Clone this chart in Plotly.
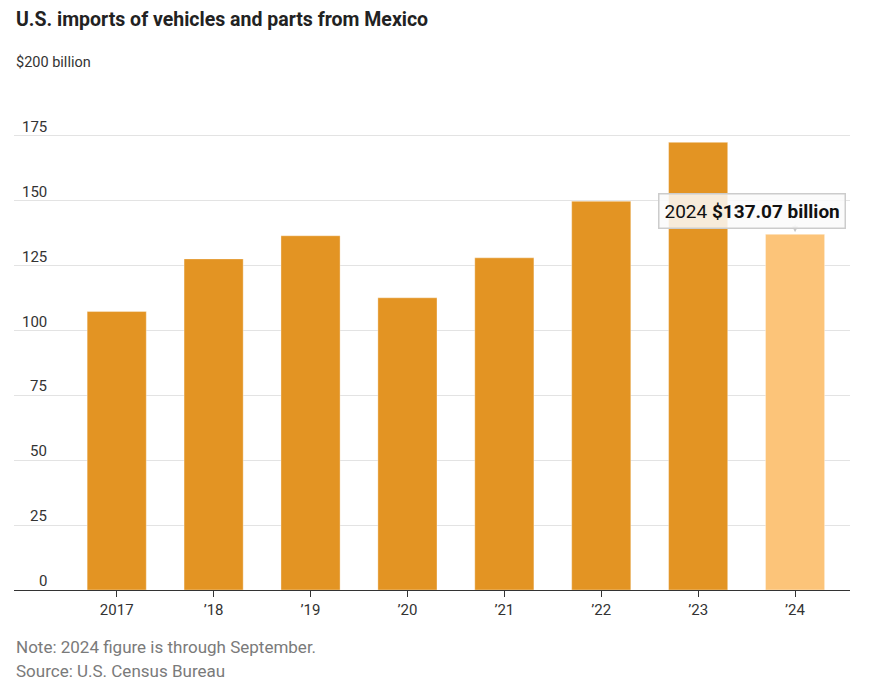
import plotly.graph_objects as go

years = ["2017", "\u201918", "\u201919", "\u201920", "\u201921", "\u201922", "\u201923", "\u201924"]
imports_bn = [107.3, 127.6, 136.5, 112.6, 128.0, 149.8, 172.5, 137.07]
ytick_vals = [0, 25, 50, 75, 100, 125, 150, 175, 200]
ytick_text = ["0", "25", "50", "75", "100", "125", "150", "175", "$200 billion"]

bar_colors = ["#E39423"] * 7 + ["#FCC479"]

fig = go.Figure()
fig.add_trace(go.Bar(
    x=years, y=imports_bn,
    marker=dict(color=bar_colors, line=dict(color="rgba(255,255,255,0.35)", width=1)),
    hoverinfo="skip",
))

FONT = "Roboto"
# page has an 8px body margin; figure sized to fit the 870x686 window
OFF = 8
W, H = 870 - OFF, 686 - OFF
L, R = 14 - OFF, 870 - 850
T = 71 - OFF
B = H - (590 - OFF)
plot_h = 590 - 71

def py(pix):  # page pixel -> paper y
    return (590 - pix) / plot_h

annotations = []
for v, t in zip(ytick_vals, ytick_text):
    if t.startswith("$"):
        annotations.append(dict(x=0, xref="paper", y=v, yref="y", text=t, showarrow=False,
                                xanchor="left", yanchor="bottom", yshift=-2,
                                font=dict(family=FONT, size=14.5, color="#333")))
    else:
        annotations.append(dict(x=(49 - 14) / (850 - 14), xref="paper", y=v, yref="y", text=t,
                                showarrow=False, xanchor="right", yanchor="bottom", yshift=-2,
                                font=dict(family=FONT, size=15, color="#333")))

annotations.append(dict(x=0, xref="paper", y=py(19.5), yref="paper",
                        text="<b>U.S. imports of vehicles and parts from Mexico</b>",
                        showarrow=False, xanchor="left", yanchor="middle",
                        font=dict(family=FONT, size=19.5, color="#222")))
annotations.append(dict(x=0, xref="paper", y=py(647), yref="paper",
                        text="Note: 2024 figure is through September.",
                        showarrow=False, xanchor="left", yanchor="middle",
                        font=dict(family=FONT, size=17, color="#7a7a7a")))
annotations.append(dict(x=0, xref="paper", y=py(671), yref="paper",
                        text="Source: U.S. Census Bureau",
                        showarrow=False, xanchor="left", yanchor="middle",
                        font=dict(family=FONT, size=17, color="#7a7a7a")))

# pointer
annotations.append(dict(x=years[-1], y=imports_bn[-1], xref="x", yref="y", text="",
                        showarrow=True, ax=0, ay=-9, arrowhead=2, arrowsize=1.2,
                        arrowwidth=1, arrowcolor="#c8c8c8", yshift=2))
# callout box
annotations.append(dict(x=years[-1], y=imports_bn[-1], xref="x", yref="y",
                        text="2024 <b>$%.2f billion</b>" % imports_bn[-1],
                        showarrow=False, xanchor="center", yanchor="middle",
                        xshift=-43, yshift=23,
                        bgcolor="rgba(250,250,250,0.85)", bordercolor="#cccccc",
                        borderwidth=1.5, borderpad=5,
                        font=dict(family=FONT, size=19, color="#111")))

fig.update_layout(
    width=W, height=H,
    margin=dict(l=L, r=R, t=T, b=B),
    paper_bgcolor="white", plot_bgcolor="white",
    showlegend=False,
    bargap=0.39,
    annotations=annotations,
    font=dict(family=FONT),
)
fig.update_xaxes(
    type="category", range=[-1.06, 7.567],
    showline=True, linecolor="#333", linewidth=1,
    ticks="outside", ticklen=6, tickcolor="#333",
    tickfont=dict(family=FONT, size=15, color="#333"),
    showgrid=False, fixedrange=True,
)
fig.update_yaxes(
    range=[0, 200], tickvals=ytick_vals, showticklabels=False,
    showgrid=True, gridcolor="#e3e3e3", gridwidth=1, zeroline=False,
    fixedrange=True,
)

fig.write_html("out.html")
